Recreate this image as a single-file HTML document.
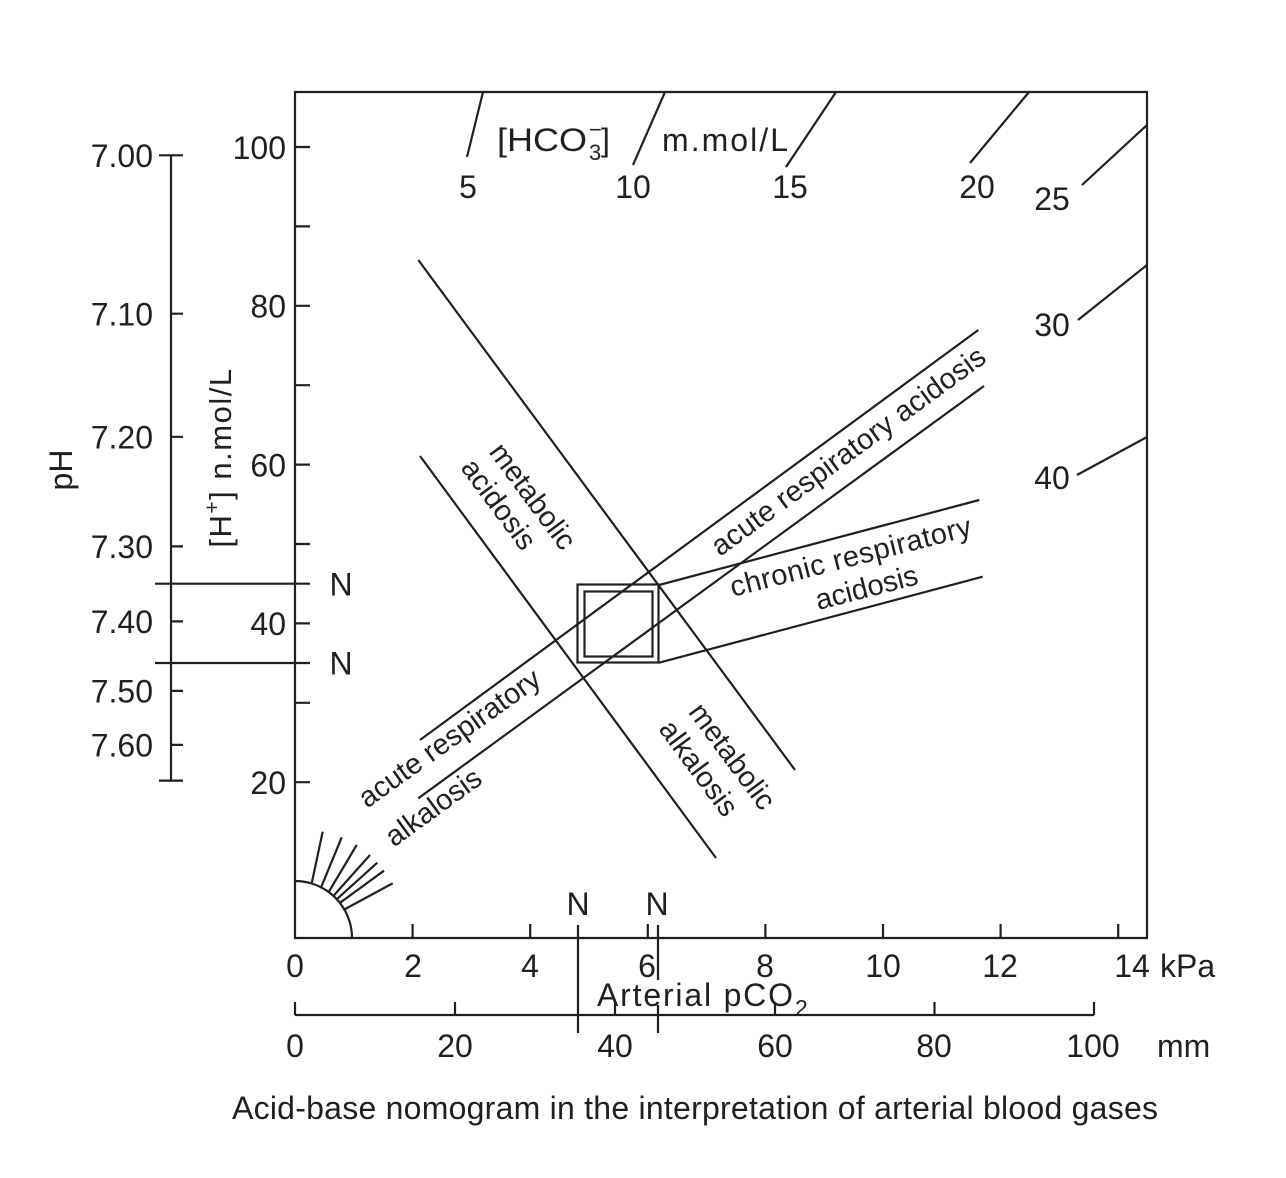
<!DOCTYPE html>
<html><head><meta charset="utf-8"><style>
html,body{margin:0;padding:0;background:#fff;}
svg{display:block;}
text{font-family:"Liberation Sans",sans-serif;fill:#231f20;}
</style></head><body>
<svg width="1286" height="1178" viewBox="0 0 1286 1178" xmlns="http://www.w3.org/2000/svg">
<rect width="1286" height="1178" fill="#fff"/>
<g stroke="#231f20" stroke-width="2.2" fill="none">
<path d="M295,92 H1147 V938 H295 Z"/>
<path d="M295,147 h15 M295,226.4 h15 M295,305.8 h15 M295,385.2 h15 M295,464.6 h15 M295,544 h15 M295,623.4 h15 M295,702.8 h15 M295,782.2 h15"/>
<path d="M412.6,938 v-14 M530.2,938 v-14 M647.8,938 v-14 M765.4,938 v-14 M883,938 v-14 M1000.6,938 v-14 M1118.2,938 v-14"/>
<path d="M295,1015 H1094 M295,1015 v-13 M455,1015 v-13 M615,1015 v-13 M775,1015 v-13 M934.5,1015 v-13 M1094,1015 v-13"/>
<path d="M578,925 V1033 M658,925 V980 M658,1005 V1033"/>
<path d="M171,155.3 V780.6 M159,155.3 h24 M171,313.7 h12 M171,436.8 h12 M171,546.4 h12 M171,621.4 h12 M171,690.9 h12 M171,744.9 h12 M159,780.6 h24"/>
<path d="M155,583.7 H310 M155,663 H310"/>
<path d="M467,157 L483,92 M633,165 L665,92 M786,167 L836,92 M970,163 L1029,92 M1082,185 L1147,125 M1078,320 L1147,265 M1077,475 L1147,437"/>
<path d="M295,881 A57,57 0 0 1 352,938"/>
<path d="M311.7,883.3 L322.7,831.7 M320.7,888.3 L341.7,837.3 M328.3,892.7 L356.7,845 M333.3,896 L370,855 M336.7,899.3 L377.3,862.7 M339.3,903.3 L384,870.7 M343.3,910 L392.7,883.3"/>
<path d="M418.3,260 L795,770 M420,456 L716,858"/>
<path d="M420,740 L978.3,330 M418.3,798.3 L984,386"/>
<path d="M659,585 L979.3,500 M659,662.7 L982.7,576.7"/>
<rect x="577.5" y="584.5" width="81" height="78"/>
<rect x="584.5" y="591.5" width="68" height="65"/>
</g>

<g font-size="32" text-anchor="end">
<text x="153" y="167">7.00</text>
<text x="153" y="325.5">7.10</text>
<text x="153" y="448.5">7.20</text>
<text x="153" y="558">7.30</text>
<text x="153" y="633">7.40</text>
<text x="153" y="702.5">7.50</text>
<text x="153" y="756.5">7.60</text>
<text x="286" y="159">100</text>
<text x="286" y="317.5">80</text>
<text x="286" y="476.5">60</text>
<text x="286" y="635">40</text>
<text x="286" y="794">20</text>
</g>
<g font-size="32" text-anchor="middle">
<text x="341" y="595.5">N</text>
<text x="341" y="674.5">N</text>
<text x="578" y="915">N</text>
<text x="657" y="915">N</text>
<text x="295" y="977">0</text>
<text x="413" y="977">2</text>
<text x="530" y="977">4</text>
<text x="647" y="977">6</text>
<text x="765" y="977">8</text>
<text x="883" y="977">10</text>
<text x="1000" y="977">12</text>
<text x="1132" y="977">14</text>
<text x="295" y="1057">0</text>
<text x="455" y="1057">20</text>
<text x="615" y="1057">40</text>
<text x="775" y="1057">60</text>
<text x="934" y="1057">80</text>
<text x="1093" y="1057">100</text>
<text x="468" y="198">5</text>
<text x="633" y="198">10</text>
<text x="790" y="198">15</text>
<text x="977" y="198">20</text>
<text x="1052" y="210">25</text>
<text x="1052" y="336">30</text>
<text x="1052" y="489">40</text>
</g>
<text x="1160" y="977" font-size="32">kPa</text>
<text x="1157" y="1057" font-size="32">mm</text>
<text x="597" y="1006" font-size="32" textLength="196" lengthAdjust="spacing">Arterial pCO</text>
<text x="795" y="1016" font-size="23">2</text>

<text x="497" y="151" font-size="32" textLength="90" lengthAdjust="spacingAndGlyphs">[HCO</text>
<text x="589" y="160" font-size="22">3</text>
<text x="589" y="137" font-size="22">−</text>
<text x="601" y="151" font-size="32">]</text>
<text x="662" y="151" font-size="32" textLength="126" lengthAdjust="spacing">m.mol/L</text>

<text transform="translate(72,470) rotate(-90)" font-size="32" text-anchor="middle">pH</text>
<text transform="translate(231,457.5) rotate(-90)" font-size="31" text-anchor="middle" letter-spacing="1.5">[H<tspan font-size="21" dy="-12">+</tspan><tspan dy="12">] n.mol/L</tspan></text>

<g font-size="29" text-anchor="middle">
<text transform="translate(854,459) rotate(-36.2)" textLength="332" lengthAdjust="spacing">acute respiratory acidosis</text>
<text transform="translate(853,566) rotate(-14.4)" textLength="248" lengthAdjust="spacing">chronic respiratory</text>
<text transform="translate(869,597) rotate(-14.5)">acidosis</text>
<text transform="translate(455,746) rotate(-35.5)">acute respiratory</text>
<text transform="translate(439,815) rotate(-36)">alkalosis</text>
<text transform="translate(525,502) rotate(53.5)">metabolic</text>
<text transform="translate(491,510) rotate(53.5)">acidosis</text>
<text transform="translate(724.5,762) rotate(53.5)">metabolic</text>
<text transform="translate(691,774) rotate(53.5)">alkalosis</text>
</g>

<text x="232" y="1119" font-size="32" textLength="926" lengthAdjust="spacing">Acid-base nomogram in the interpretation of arterial blood gases</text>
</svg>
</body></html>
